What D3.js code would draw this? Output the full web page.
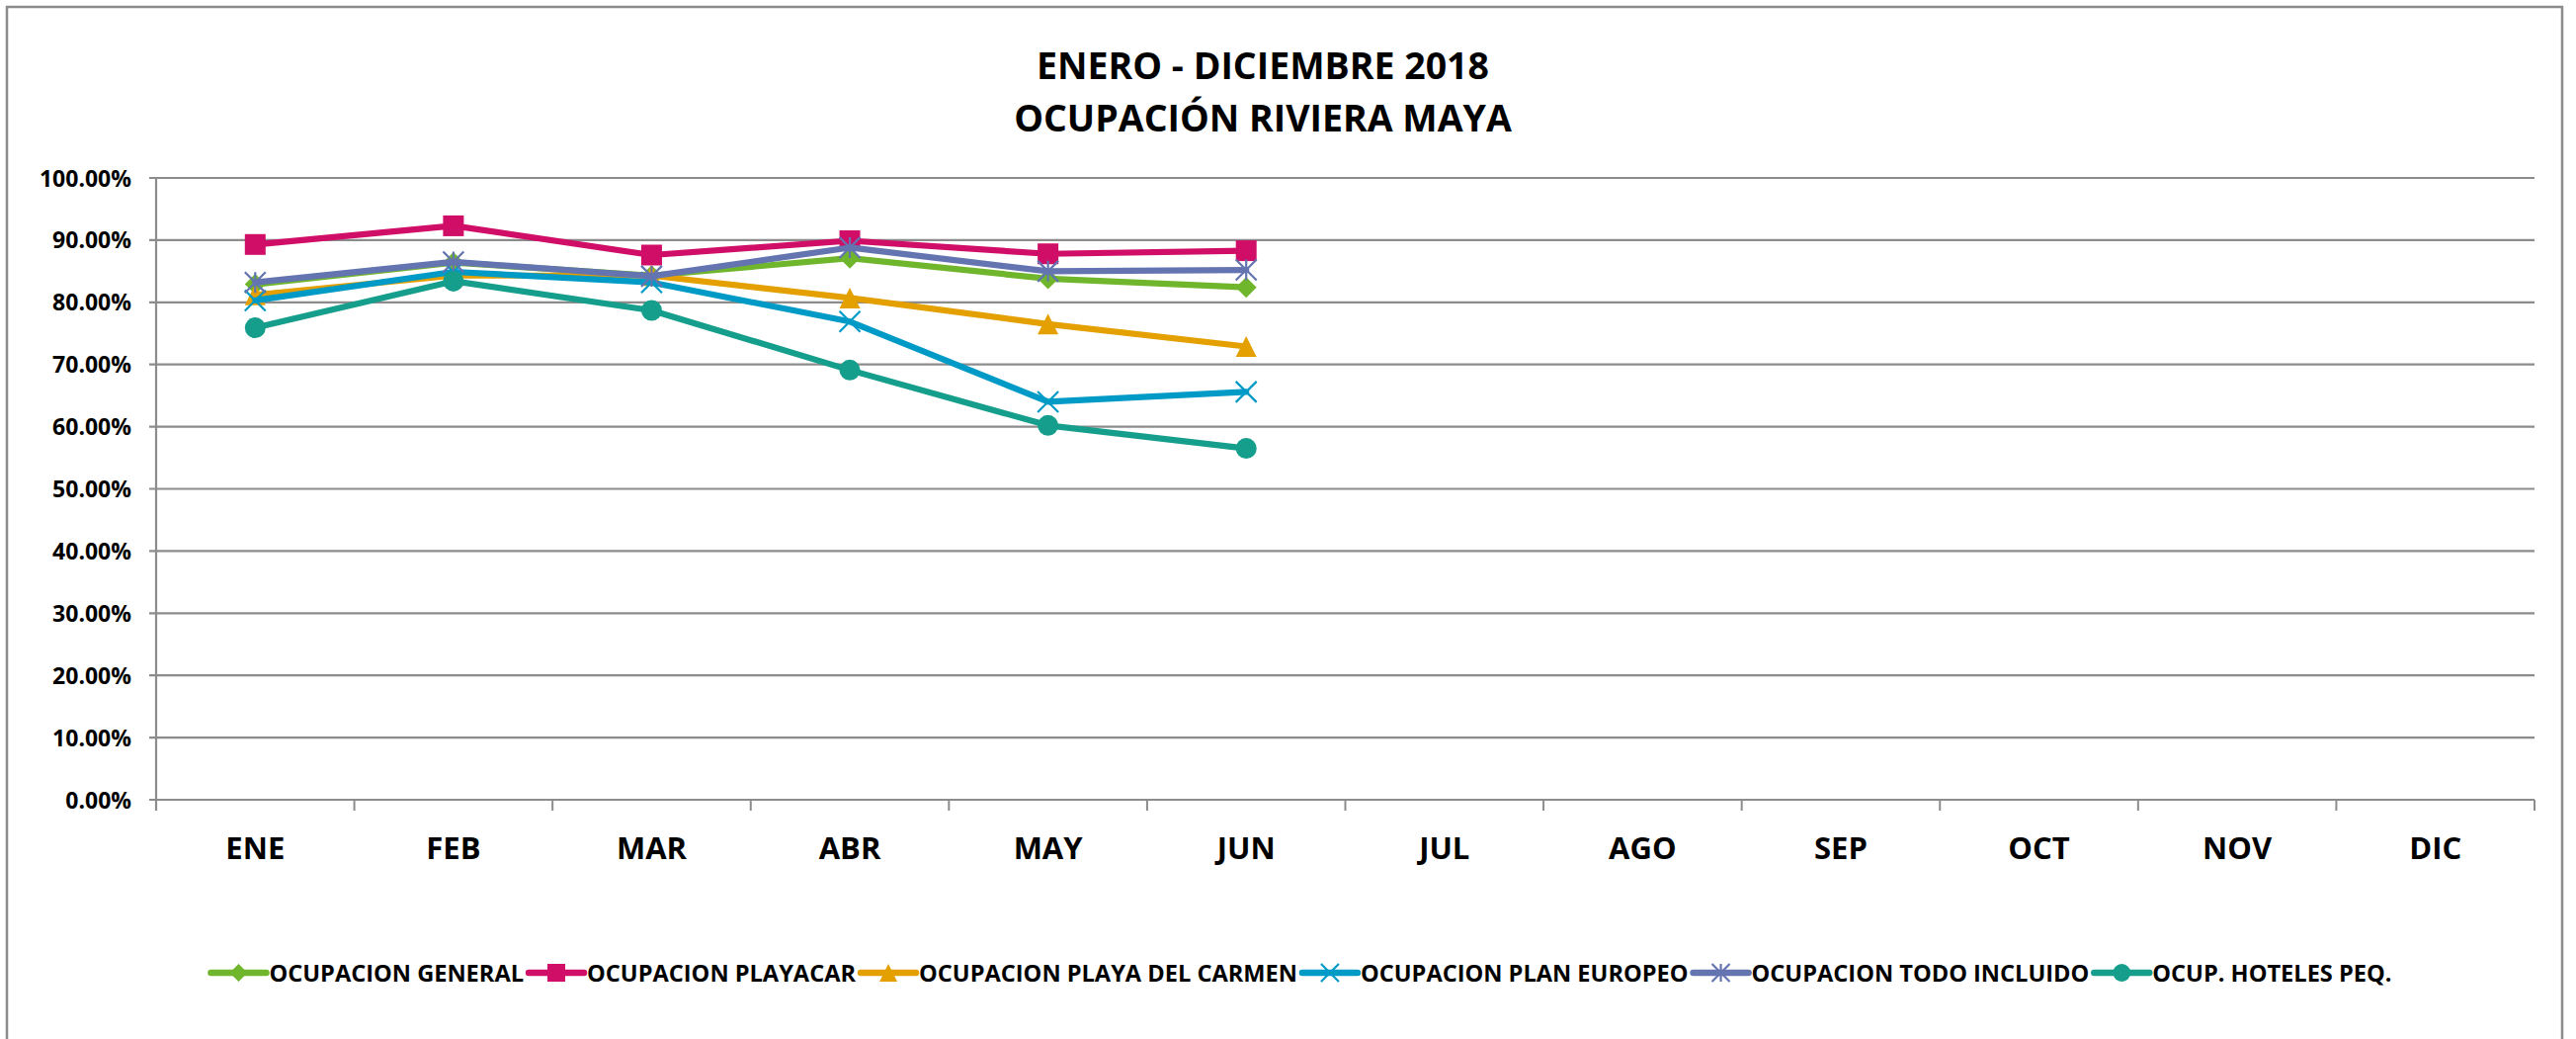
<!DOCTYPE html>
<html>
<head>
<meta charset="utf-8">
<script src="https://cdn.jsdelivr.net/npm/d3@7"></script>
<style>
    body { margin: 0; background: #fff; }
    text { font-family: 'Open Sans', 'Noto Sans', sans-serif; font-weight: bold; fill: #000; }
</style>
</head>
<body>
<svg id="chart" width="2607" height="1051"></svg>
<script>
// ------- Data -------

const months = ['ENE', 'FEB', 'MAR', 'ABR', 'MAY', 'JUN', 'JUL', 'AGO', 'SEP', 'OCT', 'NOV', 'DIC'];
const yTicks = [0, 10, 20, 30, 40, 50, 60, 70, 80, 90, 100];

const general = [82.9, 86.4, 84.3, 87.1, 83.8, 82.4];
const playacar = [89.3, 92.3, 87.6, 89.9, 87.8, 88.3];
const playaDelCarmen = [81.2, 84.3, 84.3, 80.7, 76.5, 72.9];
const planEuropeo = [80.3, 84.9, 83.2, 76.9, 64.0, 65.6];
const todoIncluido = [83.2, 86.5, 84.2, 88.8, 85.0, 85.2];
const hotelesPeq = [75.9, 83.4, 78.7, 69.1, 60.2, 56.5];

const seriesNames = [
    'OCUPACION GENERAL',
    'OCUPACION PLAYACAR',
    'OCUPACION PLAYA DEL CARMEN',
    'OCUPACION PLAN EUROPEO',
    'OCUPACION TODO INCLUIDO',
    'OCUP. HOTELES PEQ.'
];
const seriesValues = [general, playacar, playaDelCarmen, planEuropeo, todoIncluido, hotelesPeq];
const seriesColours = ['#70B62C', '#D00E68', '#E3A000', '#009AC7', '#6374B0', '#159E8B'];
const seriesMarkers = ['diamond', 'square', 'triangle', 'cross', 'star', 'circle'];

const series = seriesNames.map((name, i) => ({
    name,
    colour: seriesColours[i],
    marker: seriesMarkers[i],
    values: seriesValues[i].map((v, j) => ({ month: months[j], value: v }))
}));

// ------- Set up -------

const svg = d3.select('#chart');
const gridColour = '#8c8c8c';

const margin = { top: 180, bottom: 242, left: 158, right: 42 };
const width = +svg.attr('width');
const height = +svg.attr('height');
const innerWidth = width - margin.left - margin.right;
const innerHeight = height - margin.top - margin.bottom;

// chart border: left, top and right edges (bottom edge lies below the picture)
svg.append('path')
    .attr('d', `M7,${height}V7H2593V${height}`)
    .attr('fill', 'none')
    .attr('stroke', gridColour)
    .attr('stroke-width', 2.5);

const g = svg.append('g')
    .attr('transform', `translate(${margin.left}, ${margin.top})`);

const x = d3.scaleBand().domain(months).range([0, innerWidth]);
const y = d3.scaleLinear().domain([0, 100]).range([innerHeight, 0]);

// ------- Title -------

const titleLines = ['ENERO - DICIEMBRE 2018', 'OCUPACIÓN RIVIERA MAYA'];
svg.selectAll('text.title')
    .data(titleLines)
    .enter()
    .append('text')
        .attr('class', 'title')
        .attr('x', 1278)
        .attr('y', (d, i) => 80 + i * 53)
        .attr('text-anchor', 'middle')
        .style('font-size', '37.5px')
        .text(d => d);

// ------- Grid and axes -------

g.append('g')
    .selectAll('line')
    .data(yTicks)
    .enter()
    .append('line')
        .attr('x1', -7)
        .attr('x2', innerWidth)
        .attr('y1', d => y(d))
        .attr('y2', d => y(d))
        .attr('stroke', gridColour)
        .attr('stroke-width', 2.2);

g.append('g')
    .selectAll('text')
    .data(yTicks)
    .enter()
    .append('text')
        .attr('x', -25)
        .attr('y', d => y(d) + 8.5)
        .attr('text-anchor', 'end')
        .style('font-size', '23px')
        .text(d => d.toFixed(2) + '%');

// vertical axis line
g.append('line')
    .attr('x1', 0).attr('x2', 0)
    .attr('y1', 0).attr('y2', innerHeight + 11)
    .attr('stroke', gridColour)
    .attr('stroke-width', 2.2);

// category tick marks
g.append('g')
    .selectAll('line')
    .data(months)
    .enter()
    .append('line')
        .attr('x1', d => x(d) + x.bandwidth())
        .attr('x2', d => x(d) + x.bandwidth())
        .attr('y1', innerHeight)
        .attr('y2', innerHeight + 11)
        .attr('stroke', gridColour)
        .attr('stroke-width', 2);

g.append('g')
    .selectAll('text')
    .data(months)
    .enter()
    .append('text')
        .attr('x', d => x(d) + x.bandwidth() / 2)
        .attr('y', innerHeight + 60)
        .attr('text-anchor', 'middle')
        .style('font-size', '31px')
        .text(d => d);

// ------- Markers -------

const drawMarker = (sel, type, colour, size) => {
    const h = size / 2;
    if (type === 'diamond') {
        sel.append('path').attr('d', `M0,${-h}L${h},0L0,${h}L${-h},0Z`).attr('fill', colour);
    } else if (type === 'square') {
        sel.append('rect').attr('x', -h).attr('y', -h).attr('width', size).attr('height', size).attr('fill', colour);
    } else if (type === 'triangle') {
        sel.append('path').attr('d', `M0,${-h}L${h},${h}L${-h},${h}Z`).attr('fill', colour);
    } else if (type === 'circle') {
        sel.append('circle').attr('r', h).attr('fill', colour);
    } else if (type === 'cross') {
        sel.append('path').attr('d', `M${-h},${-h}L${h},${h}M${-h},${h}L${h},${-h}`)
            .attr('stroke', colour).attr('stroke-width', 2.2).attr('fill', 'none');
    } else if (type === 'star') {
        sel.append('path').attr('d', `M${-h},${-h}L${h},${h}M${-h},${h}L${h},${-h}M0,${-h}L0,${h}`)
            .attr('stroke', colour).attr('stroke-width', 2.2).attr('fill', 'none');
    }
};

// ------- Lines -------

const lineGenerator = d3.line()
    .x(d => x(d.month) + x.bandwidth() / 2)
    .y(d => y(d.value));

const seriesG = g.selectAll('g.series')
    .data(series)
    .enter()
    .append('g')
        .attr('class', 'series');

seriesG.append('path')
    .attr('d', d => lineGenerator(d.values))
    .attr('fill', 'none')
    .attr('stroke', d => d.colour)
    .attr('stroke-width', 6.2)
    .attr('stroke-linejoin', 'round')
    .attr('stroke-linecap', 'round');

seriesG.each(function(s) {
    d3.select(this)
        .selectAll('g.marker')
        .data(s.values)
        .enter()
        .append('g')
            .attr('class', 'marker')
            .attr('transform', d => `translate(${x(d.month) + x.bandwidth() / 2}, ${y(d.value)})`)
            .each(function() { drawMarker(d3.select(this), s.marker, s.colour, 21); });
});

// ------- Legend -------

const legendY = 984;
const legendG = svg.append('g').attr('class', 'legend');
let cursor = 0;
series.forEach(s => {
    const item = legendG.append('g').attr('transform', `translate(${cursor}, ${legendY})`);
    item.append('line')
        .attr('x1', 0).attr('x2', 56)
        .attr('stroke', s.colour)
        .attr('stroke-width', 6.5)
        .attr('stroke-linecap', 'round');
    const m = item.append('g').attr('transform', 'translate(28, 0)');
    drawMarker(m, s.marker, s.colour, 18);
    const label = item.append('text')
        .attr('x', 59)
        .attr('y', 8.5)
        .style('font-size', '23.6px')
        .text(s.name);
    cursor += 59 + label.node().getComputedTextLength() + 5;
});
const legendWidth = cursor - 5;
legendG.attr('transform', `translate(${1317 - legendWidth / 2}, 0)`);
</script>
</body>
</html>
